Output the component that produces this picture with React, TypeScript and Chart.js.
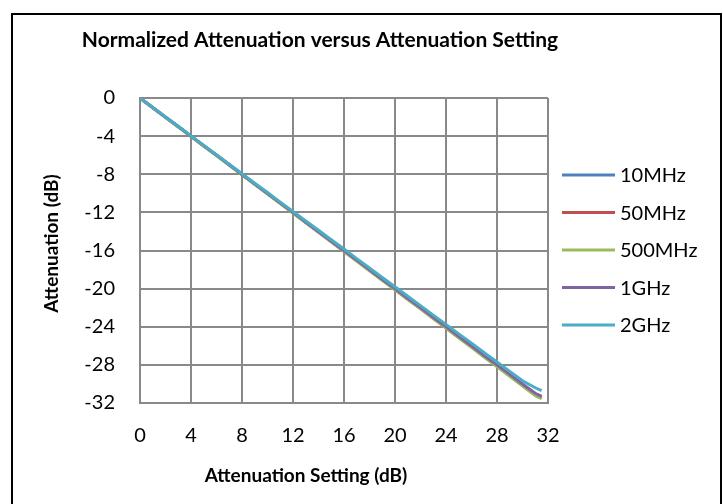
import React, { useEffect, useRef } from "react";
import { Chart, registerables } from "chart.js";

Chart.register(...registerables);

const settings = [0, 1, 2, 3, 4, 5, 6, 7, 8, 9, 10, 11, 12, 13, 14, 15, 16, 17, 18, 19, 20, 21, 22, 23, 24, 25, 26, 27, 28, 29, 30, 31, 31.5];

const att10MHz = [0, -1.01, -2.02, -3.0, -4.01, -5.02, -6.0, -7.01, -8.02, -9.03, -10.02, -11.03, -12.02, -13.04, -14.03, -15.04, -16.05, -17.04, -18.05, -19.06, -20.05, -21.07, -22.06, -23.08, -24.07, -25.09, -26.08, -27.1, -28.1, -29.11, -30.12, -31.13, -31.45];
const att50MHz = [0, -1.02, -2.03, -3.01, -4.02, -5.03, -6.02, -7.03, -8.04, -9.05, -10.04, -11.05, -12.05, -13.07, -14.06, -15.08, -16.08, -17.08, -18.1, -19.1, -20.09, -21.11, -22.1, -23.12, -24.11, -25.13, -26.12, -27.15, -28.14, -29.16, -30.17, -31.18, -31.5];
const att500MHz = [0, -1.02, -2.03, -3.02, -4.03, -5.04, -6.03, -7.04, -8.05, -9.06, -10.05, -11.07, -12.06, -13.08, -14.08, -15.09, -16.1, -17.1, -18.11, -19.12, -20.11, -21.13, -22.12, -23.15, -24.14, -25.16, -26.15, -27.18, -28.17, -29.19, -30.2, -31.21, -31.55];
const att1GHz = [0, -1.0, -2.01, -2.99, -4.0, -5.0, -5.99, -7.0, -8.0, -9.01, -9.99, -11.0, -11.99, -13.01, -14.0, -15.01, -16.0, -17.0, -18.0, -19.01, -19.99, -21.01, -21.99, -23.01, -23.99, -25.01, -25.99, -27.01, -27.98, -29.0, -30.0, -30.98, -31.3];
const att2GHz = [0, -0.99, -1.99, -2.97, -3.97, -4.97, -5.95, -6.95, -7.95, -8.94, -9.92, -10.92, -11.9, -12.9, -13.88, -14.88, -15.85, -16.85, -17.83, -18.83, -19.8, -20.8, -21.78, -22.78, -23.75, -24.75, -25.72, -26.72, -27.7, -28.68, -29.67, -30.4, -30.7];

const seriesNames = ["10MHz", "50MHz", "500MHz", "1GHz", "2GHz"];
const seriesValues = [att10MHz, att50MHz, att500MHz, att1GHz, att2GHz];
const seriesColors = ["#4F81BD", "#C0504D", "#9BBB59", "#8064A2", "#4BACC6"];

const xTicks = [0, 4, 8, 12, 16, 20, 24, 28, 32];
const yTicks = [0, -4, -8, -12, -16, -20, -24, -28, -32];

const chartTitle = "Normalized Attenuation versus Attenuation Setting";
const xTitle = "Attenuation Setting (dB)";
const yTitle = "Attenuation (dB)";

const FONT = "Lato, 'Open Sans', sans-serif";
const GRID = "#898989";

const decorPlugin = {
  id: "decor",
  beforeDraw(chart: any) {
    const ctx = chart.ctx;
    ctx.save();
    ctx.fillStyle = "#ffffff";
    ctx.fillRect(0, 0, chart.width, chart.height);
    ctx.restore();
  },
  afterDraw(chart: any) {
    const ctx = chart.ctx;
    const area = chart.chartArea;
    ctx.save();
    ctx.strokeStyle = "#000000";
    ctx.lineWidth = 2;
    ctx.strokeRect(12, 14, 709, 520);
    ctx.fillStyle = "#000000";
    ctx.textAlign = "center";
    ctx.textBaseline = "middle";
    ctx.font = `bold 21px ${FONT}`;
    ctx.fillText(chartTitle, 320, 40);
    ctx.font = `bold 19px ${FONT}`;
    ctx.fillText(xTitle, 306, 476);
    ctx.save();
    ctx.translate(52, (area.top + area.bottom) / 2 - 7);
    ctx.rotate(-Math.PI / 2);
    ctx.fillText(yTitle, 0, 0);
    ctx.restore();
    const lx0 = 562;
    const lx1 = 615;
    const ly0 = 175;
    const step = 37.5;
    ctx.font = `20px ${FONT}`;
    ctx.textAlign = "left";
    chart.data.datasets.forEach((ds: any, i: number) => {
      const y = ly0 + i * step;
      ctx.strokeStyle = ds.borderColor;
      ctx.lineWidth = 3;
      ctx.beginPath();
      ctx.moveTo(lx0, y);
      ctx.lineTo(lx1, y);
      ctx.stroke();
      ctx.fillStyle = "#000000";
      ctx.fillText(ds.label, 620, y + 1);
    });
    ctx.restore();
  },
};

export default function App() {
  const canvasRef = useRef<HTMLCanvasElement | null>(null);

  useEffect(() => {
    document.body.style.margin = "0";
    const canvas = canvasRef.current;
    if (!canvas) return;
    const datasets = seriesNames.map((name, i) => ({
      label: name,
      data: settings.map((x, j) => ({ x, y: seriesValues[i][j] })),
      borderColor: seriesColors[i],
      backgroundColor: seriesColors[i],
      borderWidth: 3,
      pointRadius: 0,
      tension: 0,
      fill: false,
      order: seriesNames.length - i,
    }));
    const chart = new Chart(canvas, {
      type: "line",
      data: { datasets },
      options: {
        animation: false,
        responsive: false,
        devicePixelRatio: 1,
        layout: { padding: { left: 0, top: 98, right: 175, bottom: 0 } },
        plugins: {
          legend: { display: false },
          tooltip: { enabled: false },
          title: { display: false },
        },
        scales: {
          x: {
            type: "linear",
            min: 0,
            max: 32,
            afterBuildTicks: (scale: any) => {
              scale.ticks = xTicks.map((v) => ({ value: v }));
            },
            afterFit: (scale: any) => {
              scale.height = 101;
            },
            grid: { color: GRID, lineWidth: 2, drawTicks: false },
            border: { color: GRID, width: 2 },
            ticks: {
              color: "#000000",
              font: { family: FONT, size: 20 },
              padding: 21,
              maxRotation: 0,
              autoSkip: false,
            },
          },
          y: {
            type: "linear",
            min: -32,
            max: 0,
            afterBuildTicks: (scale: any) => {
              scale.ticks = yTicks.map((v) => ({ value: v }));
            },
            afterFit: (scale: any) => {
              scale.width = 140;
            },
            grid: { color: GRID, lineWidth: 2, drawTicks: false },
            border: { color: GRID, width: 2 },
            ticks: {
              color: "#000000",
              font: { family: FONT, size: 20 },
              padding: 25,
              autoSkip: false,
            },
          },
        },
      },
      plugins: [decorPlugin],
    });
    return () => chart.destroy();
  }, []);

  return (
    <div style={{ width: 723, height: 504 }}>
      <canvas ref={canvasRef} width={723} height={504} style={{ display: "block" }} />
    </div>
  );
}
